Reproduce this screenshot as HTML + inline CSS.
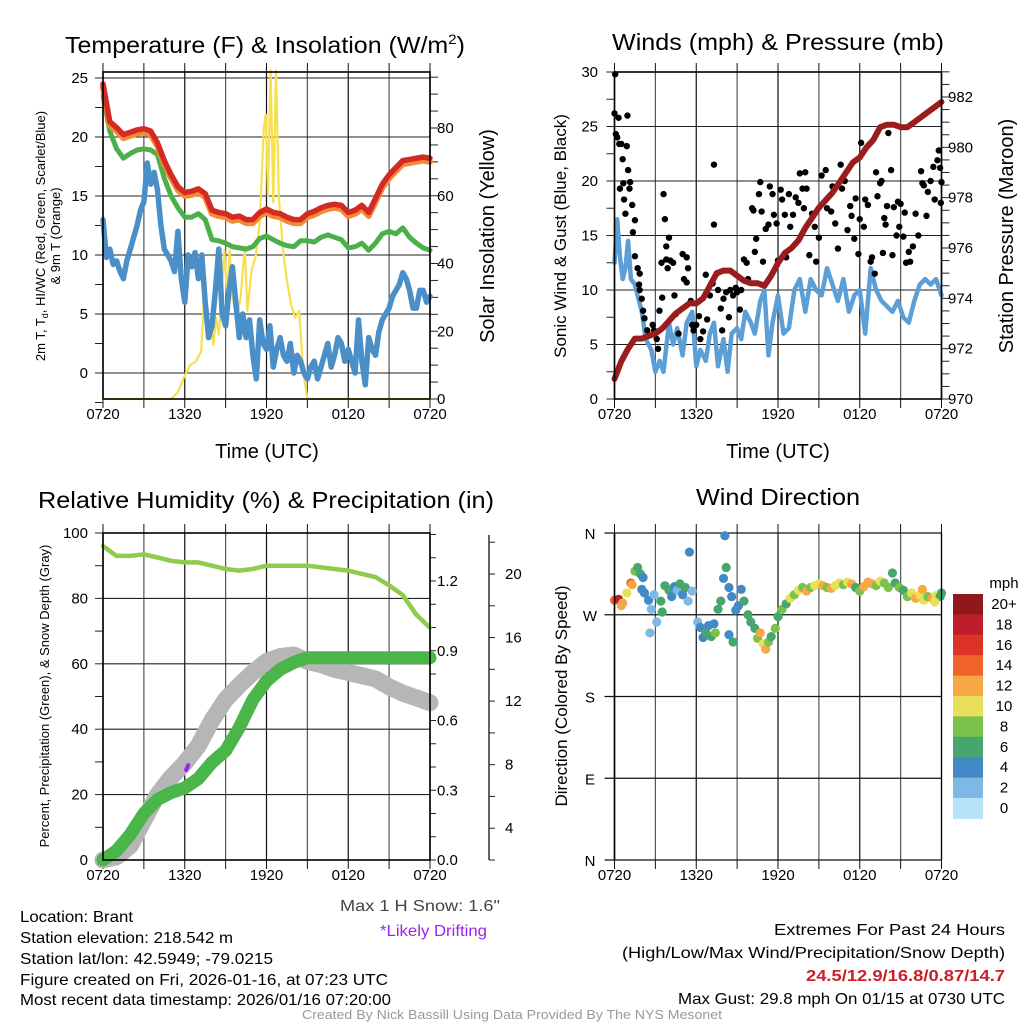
<!DOCTYPE html>
<html><head><meta charset="utf-8">
<style>
html,body{margin:0;padding:0;background:#fff;}
svg{display:block;font-family:"Liberation Sans",Arial,sans-serif;}
</style></head>
<body>
<svg id="fig" width="1024" height="1024" viewBox="0 0 1024 1024" xmlns="http://www.w3.org/2000/svg">
<rect width="1024" height="1024" fill="#fff"/>
<g id="p1"></g>
<g id="p2"></g>
<g id="p3"></g>
<g id="p4"></g>

<text x="65" y="53" font-size="23" textLength="400" lengthAdjust="spacingAndGlyphs">Temperature (F) &amp; Insolation (W/m<tspan font-size="14" dy="-9">2</tspan><tspan dy="9">)</tspan></text>
<text x="778" y="50" font-size="23" text-anchor="middle" textLength="332" lengthAdjust="spacingAndGlyphs">Winds (mph) &amp; Pressure (mb)</text>
<text x="266" y="508" font-size="23" text-anchor="middle" textLength="456" lengthAdjust="spacingAndGlyphs">Relative Humidity (%) &amp; Precipitation (in)</text>
<text x="778" y="505" font-size="23" text-anchor="middle" textLength="164" lengthAdjust="spacingAndGlyphs">Wind Direction</text>

<text x="267" y="458" font-size="20" text-anchor="middle">Time (UTC)</text>
<text x="778" y="458" font-size="20" text-anchor="middle">Time (UTC)</text>

<text font-size="13" text-anchor="middle" transform="translate(45,236) rotate(-90)">2m T, T<tspan font-size="9" dy="3">d</tspan><tspan dy="-3">, HI/WC (Red, Green, Scarlet/Blue)</tspan></text>
<text font-size="13" text-anchor="middle" transform="translate(60,236) rotate(-90)">&amp; 9m T (Orange)</text>
<text font-size="20" text-anchor="middle" transform="translate(494,236) rotate(-90)">Solar Insolation (Yellow)</text>
<text font-size="17" text-anchor="middle" transform="translate(566,236) rotate(-90)">Sonic Wind &amp; Gust (Blue, Black)</text>
<text font-size="20" text-anchor="middle" transform="translate(1013,236) rotate(-90)">Station Pressure (Maroon)</text>
<text font-size="13" text-anchor="middle" transform="translate(49,696) rotate(-90)">Percent, Precipitation (Green), &amp; Snow Depth (Gray)</text>
<text font-size="17" text-anchor="middle" transform="translate(567,696) rotate(-90)">Direction (Colored By Speed)</text>

<g font-size="16">
<text x="20" y="922" textLength="113" lengthAdjust="spacingAndGlyphs">Location: Brant</text>
<text x="20" y="943" textLength="213" lengthAdjust="spacingAndGlyphs">Station elevation: 218.542 m</text>
<text x="20" y="964" textLength="253" lengthAdjust="spacingAndGlyphs">Station lat/lon: 42.5949; -79.0215</text>
<text x="20" y="985" textLength="368" lengthAdjust="spacingAndGlyphs">Figure created on Fri, 2026-01-16, at 07:23 UTC</text>
<text x="20" y="1005" textLength="371" lengthAdjust="spacingAndGlyphs">Most recent data timestamp: 2026/01/16 07:20:00</text>
</g>
<text x="340" y="911" font-size="16" fill="#444" textLength="160" lengthAdjust="spacingAndGlyphs">Max 1 H Snow: 1.6"</text>
<text x="380" y="936" font-size="16" fill="#a020f0" textLength="107" lengthAdjust="spacingAndGlyphs">*Likely Drifting</text>
<g font-size="16">
<text x="774" y="935" textLength="231" lengthAdjust="spacingAndGlyphs">Extremes For Past 24 Hours</text>
<text x="622" y="958" textLength="383" lengthAdjust="spacingAndGlyphs">(High/Low/Max Wind/Precipitation/Snow Depth)</text>
<text x="806" y="981" fill="#c8202a" font-weight="bold" textLength="199" lengthAdjust="spacingAndGlyphs">24.5/12.9/16.8/0.87/14.7</text>
<text x="678" y="1004" textLength="327" lengthAdjust="spacingAndGlyphs">Max Gust: 29.8 mph On 01/15 at 0730 UTC</text>
</g>
<text x="302" y="1019" font-size="13" fill="#999" textLength="420" lengthAdjust="spacingAndGlyphs">Created By Nick Bassill Using Data Provided By The NYS Mesonet</text>
</svg>
<script>
// ===== Data =====
const xTickLabels = ["0720","1320","1920","0120","0720"];
const tempTicks = [0,5,10,15,20,25];
const solarTicks = [0,20,40,60,80];
const windTicks = [0,5,10,15,20,25,30];
const pressTicks = [970,972,974,976,978,980,982];
const rhTicks = [0,20,40,60,80,100];
const precipTicks = [0.0,0.3,0.6,0.9,1.2];
const snowTicks = [4,8,12,16,20];
const dirLabels = ["N","E","S","W","N"];
const speedBins = ["0","2","4","6","8","10","12","14","16","18","20+"];
const speedColors = ["#b8e2f8","#7db9e4","#4289c6","#47a66c","#7bc24b","#e8e05a","#f7a845","#f0642b","#dd3327","#be1e2a","#8e181c"];

const halfHours = [0,0.5,1,1.5,2,2.5,3,3.5,4,4.5,5,5.5,6,6.5,7,7.5,8,8.5,9,9.5,10,10.5,11,11.5,12,12.5,13,13.5,14,14.5,15,15.5,16,16.5,17,17.5,18,18.5,19,19.5,20,20.5,21,21.5,22,22.5,23,23.5,24];
const temp2m = [24.5,21.3,20.8,20.2,20.4,20.6,20.7,20.5,19.5,18.0,16.8,15.8,15.3,15.4,15.6,15.2,13.8,13.6,13.5,13.2,13.3,13.0,13.0,13.6,13.9,13.6,13.5,13.2,13.0,13.0,13.5,13.7,14.0,14.2,14.3,14.2,13.6,13.8,14.2,13.6,14.8,16.0,16.8,17.4,18.0,18.1,18.2,18.3,18.2];
const temp9m = [24.2,21.0,20.5,19.9,20.1,20.3,20.4,20.2,19.2,17.7,16.5,15.5,15.0,15.1,15.3,14.9,13.5,13.3,13.2,12.9,13.0,12.7,12.7,13.3,13.6,13.3,13.2,12.9,12.7,12.7,13.2,13.4,13.7,13.9,14.0,13.9,13.3,13.5,13.9,13.3,14.5,15.7,16.5,17.1,17.7,17.8,17.9,18.0,17.9];
const heatIdx = [23.5,20.5,19.0,18.2,18.6,18.9,19.0,18.9,18.5,16.5,15.0,14.0,13.2,13.2,13.5,13.0,11.3,11.2,11.0,10.7,10.6,10.5,10.7,11.4,11.6,11.3,11.0,10.8,10.7,11.2,11.2,11.1,11.5,11.7,11.5,11.3,10.6,10.7,11.0,10.4,11.0,11.8,12.0,11.8,12.3,11.5,11.0,10.6,10.4];
const dewTimes = [0,0.25,0.5,0.75,1,1.25,1.5,1.75,2,2.25,2.5,2.75,3,3.25,3.5,3.75,4,4.25,4.5,4.75,5,5.25,5.5,5.75,6,6.25,6.5,6.75,7,7.25,7.5,7.75,8,8.25,8.5,8.75,9,9.25,9.5,9.75,10,10.25,10.5,10.75,11,11.25,11.5,11.75,12,12.25,12.5,12.75,13,13.25,13.5,13.75,14,14.25,14.5,14.75,15,15.25,15.5,15.75,16,16.25,16.5,16.75,17,17.25,17.5,17.75,18,18.25,18.5,18.75,19,19.25,19.5,19.75,20,20.25,20.5,20.75,21,21.25,21.5,21.75,22,22.25,22.5,22.75,23,23.25,23.5,23.75,24];
const dewPoint = [13,9.8,10.5,9.2,9.5,8.6,8.0,9.5,10.5,11.5,12.5,13.8,14.5,17.8,16,17,15.5,12.5,10.5,10.0,9.5,8.6,12,8,6,10,9,10.2,8,10,6,3,4,7,10.5,5,4,7,9,6,3,5,3,4.5,1.5,-0.5,4.5,2.5,2,4,0.5,2,3,1.5,1,2.5,0,1.5,1,0,-0.5,0.5,1,-0.5,0.5,1.5,2.5,0.5,1.5,3,2.5,1,2,1,0,4.5,1,-1,3,2,1.5,3.5,4.5,5,5.5,6.5,7,7.5,8.5,8,7,5.5,5.5,7,7,6,6.5];
const solarTimes = [0,5.0,5.5,6,6.4,6.8,7.2,7.5,7.7,7.9,8.1,8.3,8.5,8.7,8.9,9.1,9.3,9.5,9.8,10.1,10.4,10.6,10.9,11.2,11.5,11.8,11.95,12.1,12.3,12.5,12.7,12.9,13.2,13.5,13.8,14.1,14.4,14.7,15.0,24];
const solarRad = [0,0,2,7,10,11,14,36,18,22,16,24,19,30,44,30,44,30,24,30,45,26,38,42,52,80,84,60,97,58,97,60,44,35,28,24,26,8,0,0];

const windTimes = [0,0.2,0.4,0.6,0.8,1,1.2,1.5,2,2.3,2.7,3,3.3,3.6,4,4.3,4.6,5,5.3,5.7,6,6.3,6.7,7,7.3,7.6,8,8.3,8.6,9,9.3,9.6,10,10.3,10.7,11,11.3,11.6,12,12.4,12.8,13.2,13.6,14,14.4,14.8,15.2,15.6,16,16.4,16.8,17.2,17.6,18,18.4,18.8,19.2,19.6,20,20.4,20.8,21.2,21.6,22,22.4,22.8,23.2,23.6,24];
const windSpeed = [12.5,16.5,13,11,12,14.5,11,10.5,8,5.5,4.5,2.5,3.5,2.5,7,5,6.5,4,7,8,3,4.5,3.5,6,7,3,5.5,2.5,6,6.5,5.5,8,7,6,9,10,4,7,9.5,6,6.5,10,11,8,11,10,9.5,12,10.5,9,11,8,9.5,10,6,12,10,9,8.5,8,9,7.5,7,9,10.5,11,10.5,11,9.5];
const pressure = [970.8,971.5,972.0,972.4,972.4,972.5,972.6,972.8,973.1,973.4,973.6,973.8,973.8,974.0,974.5,975.0,975.1,975.1,974.9,974.7,974.6,974.6,974.5,974.9,975.4,975.8,976.0,976.3,976.8,977.2,977.6,977.9,978.2,978.6,979.0,979.4,979.6,980.0,980.3,980.8,980.9,980.9,980.8,980.8,981.0,981.2,981.4,981.6,981.8];
const gustTimes = [0.05,0,0.1,0.2,0.3,0.35,0.5,0.4,0.6,0.7,0.65,0.8,0.9,0.95,1.0,1.1,1.15,1.3,1.35,1.5,1.5,1.7,1.85,1.8,1.85,2.0,2.1,2.2,2.4,2.8,2.9,3.1,3.2,3.3,3.5,3.45,3.6,3.7,3.8,3.8,3.9,4.0,4.1,4.3,4.4,4.5,4.7,5.0,5.1,5.3,5.3,5.4,5.6,5.7,5.8,6.0,6.2,6.3,6.5,6.7,6.8,7.0,7.2,7.3,7.3,7.5,7.6,7.8,7.9,8.0,8.2,8.4,8.5,8.7,8.9,9.0,9.2,9.3,9.5,9.7,9.8,10.1,10.2,10.3,10.4,10.6,10.7,10.8,10.9,11.1,11.3,11.4,11.6,11.7,11.9,12.0,12.2,12.3,12.5,12.6,12.8,12.9,13.1,13.3,13.5,13.6,13.8,13.9,14.0,14.1,14.3,14.5,14.7,14.8,15.0,15.2,15.5,15.6,15.9,16.0,16.2,16.4,16.6,16.7,16.9,17.1,17.3,17.4,17.6,17.7,17.9,18.0,18.1,18.3,18.4,18.6,18.8,18.9,19.1,19.2,19.3,19.5,19.6,19.7,19.8,19.9,20.0,20.1,20.3,20.4,20.5,20.7,20.8,20.9,21.0,21.2,21.3,21.4,21.6,21.7,21.9,22.1,22.3,22.5,22.6,22.7,22.9,23.0,23.2,23.4,23.5,23.7,23.8,23.9,24.0,23.95];
const gustSpeed = [29.8,26.2,24.3,24,25.8,23.4,23.4,19.3,22,18.3,19.8,17,23.2,26,21,19.3,19.9,17.8,15.3,16.4,13.1,12.0,11.5,10.5,10,9.2,8.1,7.4,6.3,6.8,6.3,5.5,4.6,8.1,9.3,12.5,18.8,16.5,14,12.8,12,14.8,12.7,12.5,9.5,7.8,6,13.3,11,13,10.7,12,9,6.8,6.3,6.8,7.6,5.5,6.2,11.4,7.3,9.5,10.6,21.5,16,11.5,10,8.3,6.3,9.2,9.8,7.5,10,9.5,10.2,9.8,8.2,10,12.8,12.5,11,17.5,17.3,13.5,14.7,18.8,19.9,17.2,12.6,15.6,16,19.5,18.8,16.9,16.1,12.7,19.2,18.3,16.9,13,18.8,15.8,16.9,18.5,18,20.7,19.3,17.5,20.8,19.3,13.2,17,15.8,12.6,14.8,20.5,21,17.5,17.2,19.5,16.1,13.8,21.5,19.3,20,15.5,17.7,16.8,14.7,18.4,13.3,16.5,23.5,15.8,18.3,17.8,12.6,13,11.5,20.8,18.6,19.8,20,13.4,16.6,16,17.7,24.4,21,13.2,17.6,15,18.1,15.8,17.9,14.9,17.1,12.5,13.5,12.6,14,17,15,20.9,19.8,19.6,16.8,19,20,21.3,18.3,21.9,22.8,21.2,19.9,18];

const hourly = [0,1,2,3,4,5,6,7,8,9,10,11,12,13,14,15,16,17,18,19,20,21,22,23,24];
const relHum = [96,93,93,93.5,92.5,91.5,91,91,90,89,88.5,89,90,90,90,90,89.5,89,88.5,87.5,86.5,84,81,75,71];
const snowDepth = [2,2.2,2.9,4.5,6.1,7.2,8.1,9.2,10.8,12.1,13.0,13.8,14.5,14.8,14.9,14.5,14.3,14.0,13.8,13.6,13.4,12.9,12.5,12.2,11.9];
const precip = [0,0.04,0.11,0.2,0.26,0.29,0.31,0.35,0.42,0.47,0.57,0.69,0.77,0.82,0.85,0.87,0.87,0.87,0.87,0.87,0.87,0.87,0.87,0.87,0.87];
const driftTime = [6.1,6.25];
const driftPct = [27.5,29];

const dirTimes = [0,0.3,0.5,0.6,0.9,1.2,1.3,1.5,1.7,1.9,2.1,2.0,2.2,2.5,2.7,2.9,3.1,2.6,3.4,3.5,3.7,4.0,4.2,4.4,4.6,4.8,5.0,5.2,5.4,5.5,5.7,6.1,6.3,6.5,6.7,6.9,7.1,7.4,7.3,7.6,7.8,8.0,8.1,8.2,8.4,8.6,8.4,8.7,8.9,9.1,9.3,9.5,9.8,10.0,10.3,10.5,10.7,10.9,11.1,11.3,11.5,11.8,12.0,12.3,12.6,12.9,13.2,13.5,13.8,14.1,14.4,14.7,15.0,15.3,15.6,15.9,16.2,16.5,16.8,17.1,17.4,17.7,18.0,18.3,18.6,18.9,19.2,19.5,19.8,20.1,20.4,20.6,20.9,21.2,21.5,21.8,22.1,22.4,22.7,23.0,23.3,23.6,23.9,24.0,22.6,23.5];
const dirDeg = [286,287,280,283,294,305,303,318,322,315,311,298,294,286,276,292,262,250,285,273,302,297,290,301,297,304,292,300,285,339,296,262,256,245,250,258,246,250,260,276,285,310,357,322,300,290,248,240,275,280,298,285,270,262,255,244,250,238,232,240,246,255,268,276,282,288,292,297,300,296,300,302,304,302,300,299,302,305,303,306,304,300,296,301,306,304,302,307,305,300,316,305,300,297,290,294,288,292,286,290,288,291,290,294,298,284];
const dirSpeed = [15,18,12,12,10,14,12,8,7,6,5,4,4,4,3,2,3,2,6,7,7,6,5,5,3,6,4,7,2,4,2,3,4,4,6,5,6,8,4,6,6,5,4,6,4,5,4,6,4,5,4,6,6,6,6,8,12,10,12,8,7,9,7,8,7,10,9,10,8,12,9,10,11,12,9,12,10,10,9,11,12,7,8,12,12,13,9,10,8,9,7,7,8,7,8,10,12,11,10,9,12,11,7,6,12,10];

// ===== Helpers =====
const NS = "http://www.w3.org/2000/svg";
function mk(parent, tag, attrs){ const e=document.createElementNS(NS,tag); for(const k in attrs) e.setAttribute(k,attrs[k]); parent.appendChild(e); return e; }
function lin(d0,d1,r0,r1){ return v => r0 + (v-d0)*(r1-r0)/(d1-d0); }

const L1=103,R1=430,L2=614.5,R2=941.5;
function frame(g, L, R, T, B){
  const X = lin(0,24,L,R);
  for(let h=0; h<=24; h+=3){
    const ln = mk(g,"line",{x1:X(h),x2:X(h),y1:T,y2:B,stroke:(h%6===0)?"#111":"#555","stroke-width":1.2});
    
    
    mk(g,"line",{x1:X(h),x2:X(h),y1:T-9,y2:T,stroke:"#111","stroke-width":1});
    mk(g,"line",{x1:X(h),x2:X(h),y1:B,y2:B+9,stroke:"#111","stroke-width":1});
  }
  xTickLabels.forEach((s,i)=>{
    const t = mk(g,"text",{x:X(i*6),y:B+20,"font-size":15,"text-anchor":"middle"});
    t.textContent=s;
    
    
  });
  return X;
}
function hgrid(g,L,R,Y,ticks,labelX,anchor,fmt){
  ticks.forEach(v=>{
    const ln = mk(g,"line",{x1:L,x2:R,y1:Y(v),y2:Y(v),stroke:"#222","stroke-width":1.1});
    
    
  });
  axisLabels(g,Y,ticks,labelX,anchor,fmt);
}
function axisLabels(g,Y,ticks,labelX,anchor,fmt){
  ticks.forEach(v=>{
    const t = mk(g,"text",{x:labelX,y:Y(v)+5,"font-size":15,"text-anchor":anchor});
    t.textContent = fmt?fmt(v):String(v);
    
    
  });
}
function ticksOn(g,x,Y,vals,len){
  vals.forEach(v=>mk(g,"line",{x1:x,x2:x+len,y1:Y(v),y2:Y(v),stroke:"#222","stroke-width":1}));
}
function range(a,b,s){const r=[];for(let v=a;v<=b+1e-9;v+=s)r.push(+v.toFixed(4));return r;}
function path(g,X,Y,ts,vs,color,w,name){
  let d=""; ts.forEach((t,i)=>{ d += (i?"L":"M")+X(t).toFixed(1)+","+Y(vs[i]).toFixed(1); });
  const p = mk(g,"path",{d:d,fill:"none",stroke:color,"stroke-width":w,"stroke-linejoin":"round","stroke-linecap":"round"});
  
  
  return p;
}
function border(g,L,R,T,B){ mk(g,"rect",{x:L,y:T,width:R-L,height:B-T,fill:"none",stroke:"#000","stroke-width":1.6}); }

// ===== Panel 1 =====
(function(){
  const g=document.getElementById("p1"); const T=72,B=399;
  const X=frame(g,L1,R1,T,B);
  const Y=lin(0,25,373,78); const YS=lin(0,80,399,128);
  hgrid(g,L1,R1,Y,tempTicks,88,"end");
  ticksOn(g,L1-8,Y,range(-2.5,25,2.5),8);
  ticksOn(g,R1,YS,range(0,95,5),8);
  axisLabels(g,YS,solarTicks,437,"start");
  path(g,X,YS,solarTimes,solarRad,"#f7df4e",2.2,"solar-insolation-line");
  path(g,X,Y,dewTimes,dewPoint,"#4a8fc8",5.5,"dewpoint-line");
  path(g,X,Y,halfHours,heatIdx,"#4bb04a",5,"heat-index-line");
  path(g,X,Y,halfHours,temp9m,"#f48a35",6,"temp-9m-line");
  path(g,X,Y,halfHours,temp2m,"#d42a24",5.5,"temp-2m-line");
  border(g,L1,R1,T,B);
})();

// ===== Panel 2 =====
(function(){
  const g=document.getElementById("p2"); const T=72,B=399;
  const X=frame(g,L2,R2,T,B);
  const Y=lin(0,30,399,72); const YP=lin(970,982,399,97);
  hgrid(g,L2,R2,Y,windTicks,598,"end");
  ticksOn(g,L2-8,Y,range(0,30,2.5),8);
  ticksOn(g,R2,YP,range(970,983,0.5),8);
  axisLabels(g,YP,pressTicks,948,"start");
  path(g,X,Y,windTimes,windSpeed,"#5b9fd6",4.5,"sonic-wind-line");
  gustTimes.forEach((t,i)=>{
    const c=mk(g,"circle",{cx:X(t),cy:Y(gustSpeed[i]),r:3.2,fill:"#000"});
    
    
  });
  path(g,X,YP,halfHours,pressure,"#9b1c1c",6,"pressure-line");
  border(g,L2,R2,T,B);
})();

// ===== Panel 3 =====
(function(){
  const g=document.getElementById("p3"); const T=533,B=860;
  const X=frame(g,L1,R1,T,B);
  const Y=lin(0,100,860,533); const YP=lin(0,1.2,860,581); const YSn=lin(2,20,860,574);
  hgrid(g,L1,R1,Y,rhTicks,88,"end");
  ticksOn(g,L1-8,Y,range(0,100,10),8);
  ticksOn(g,R1,YP,range(0,1.4,0.1),6);
  axisLabels(g,YP,precipTicks,437,"start",v=>v.toFixed(1));
  mk(g,"line",{x1:489,x2:489,y1:535,y2:860,stroke:"#222","stroke-width":1.4});
  ticksOn(g,489,YSn,range(2,22,2),6);
  axisLabels(g,YSn,snowTicks,505,"start");
  path(g,X,YSn,hourly,snowDepth,"#b6b6b6",17,"snow-depth-line");
  path(g,X,YP,hourly,precip,"#4ab548",13,"precipitation-line");
  path(g,X,Y,hourly,relHum,"#8ecb4e",4.5,"relative-humidity-line");
  path(g,X,Y,driftTime,driftPct,"#a020f0",4,"drifting-mark");
  border(g,L1,R1,T,B);
})();

// ===== Panel 4 =====
(function(){
  const g=document.getElementById("p4"); const T=533,B=860;
  const X=frame(g,L2,R2,T,B);
  const Y=lin(0,360,860,533);
  const dirVals=[0,90,180,270,360];
  dirVals.forEach((v,i)=>{
    const ln=mk(g,"line",{x1:L2-10,x2:R2,y1:Y(v),y2:Y(v),stroke:"#111","stroke-width":1.2});
    
    
    const t=mk(g,"text",{x:590,y:Y(v)+6,"font-size":15,"text-anchor":"middle"});
    t.textContent=dirLabels[i];
    
    
  });
  dirTimes.forEach((t,i)=>{
    const bin=Math.min(10,Math.floor(dirSpeed[i]/2));
    const c=mk(g,"circle",{cx:X(t),cy:Y(dirDeg[i]),r:4.6,fill:speedColors[bin]});
    
    
  });
  mk(g,"line",{x1:L2,x2:L2,y1:T,y2:B,stroke:"#000","stroke-width":1.6});
  mk(g,"line",{x1:R2,x2:R2,y1:T,y2:B,stroke:"#000","stroke-width":1.2});
  const top=594,h=20.4;
  const mt=mk(g,"text",{x:1004,y:588,"font-size":15,"text-anchor":"middle"});
  mt.textContent="mph";
  
  
  for(let k=0;k<11;k++){
    const idx=10-k;
    const r=mk(g,"rect",{x:953,y:top+k*h,width:30,height:h+0.5,fill:speedColors[idx]});
    
    
    const t=mk(g,"text",{x:1004,y:top+k*h+15,"font-size":15,"text-anchor":"middle"});
    t.textContent=speedBins[idx];
    
    
  }
})();
</script>
</body></html>
